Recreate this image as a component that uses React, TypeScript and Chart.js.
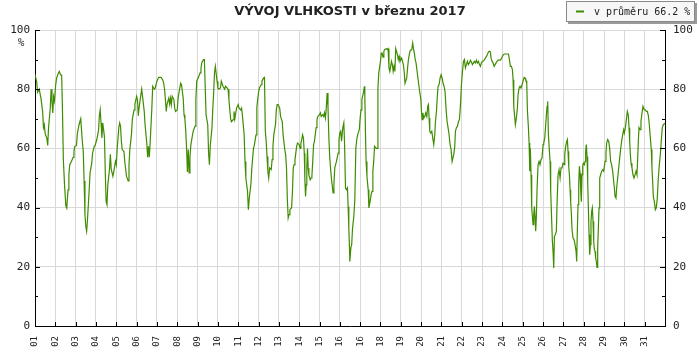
import { useEffect, useRef } from "react";
import { Chart, registerables } from "chart.js";

Chart.register(...registerables);

const titleText = "VÝVOJ VLHKOSTI v březnu 2017";
const unitLabel = "%";
const averageHumidity = 66.2;
const legendText = `v průměru ${averageHumidity} %`;

const dayLabels = [
  "01", "02", "03", "04", "05", "06", "07", "08", "09", "10",
  "11", "12", "13", "14", "15", "16", "16", "18", "19", "20",
  "21", "22", "23", "24", "25", "26", "27", "28", "29", "30", "31",
];

const yTicks = [0, 20, 40, 60, 80, 100];

// hours since 1 March 00:00, one line per day
const hours = [
  0, 2, 3, 5, 7, 9, 10, 11, 12, 14, 15, 16, 18, 19, 20, 21, 22, 23,
  24.4, 25.5, 27.5, 28.7, 30.3, 31.5, 32.5, 33.5, 35, 36.5, 37.5, 39, 40, 41, 43, 45, 46, 47,
  49, 50, 52, 54, 55, 56, 57, 58, 59, 60, 61, 62, 64, 65, 67, 68, 70, 71,
  73, 75, 76, 77, 78, 79, 80, 82, 83, 84, 85, 86, 88, 89, 90, 92, 93, 95,
  96, 97, 99, 100, 101, 102, 103, 105, 106, 108, 110, 111, 112, 114, 115, 117, 118,
  120, 121, 122, 123, 125, 126, 127, 129, 130, 132, 133, 134, 135, 136, 138, 139, 141, 142,
  144, 146, 147, 149, 151, 152, 153, 154, 155, 156, 158, 159, 160, 161, 162, 164, 165, 166,
  168, 169, 171, 172, 173, 175, 176, 177, 178, 179, 180, 181, 182, 183, 184, 186, 187, 189, 190, 191,
  193, 195, 196, 197, 199, 200, 201, 202, 204, 205, 206, 207, 209, 210, 211, 212, 213, 215,
  216, 217, 219, 220, 222, 224, 225, 227, 228, 229, 231, 232, 234, 235, 236, 238,
  240, 241, 243, 244, 245, 247, 248, 249, 251, 252, 253, 255, 256, 258, 259, 261, 262,
  264, 265, 267, 268, 270, 271, 272, 273, 274, 275, 276, 277, 279, 280, 281, 282, 284, 285, 286, 287,
  289, 290, 292, 293, 295, 296, 297, 298, 299, 300, 301, 303, 304, 305, 306, 307, 308, 309, 310,
  312, 313, 314, 315, 316, 317, 318, 318.7, 319.5, 320.3, 321, 321.8, 322.6, 323.4, 325, 326, 327, 328, 329, 330, 332, 333, 334,
  336, 337, 338, 340, 341, 342, 343, 344, 345, 346, 347, 348, 349, 350, 352, 353, 354, 355, 356, 358, 359,
  360, 361, 362, 363.5, 364.7, 365.5, 366.7, 368, 369, 369.8, 370.6, 371.4, 371.8, 373, 374, 375, 376.5, 377.7, 378.9, 380, 381, 383,
  384, 385, 386, 388, 389, 389.5, 390.3, 391, 392, 393.5, 394.3, 395.5, 397, 398, 399, 400, 401, 403, 404, 405, 406,
  408, 409, 410, 411, 412, 413, 415, 416, 417, 418, 419, 421, 422, 423, 424, 425, 426, 428, 429, 430, 431,
  433, 434, 435, 436, 437, 439, 440, 441, 442, 443, 445, 446, 447, 448, 449, 450, 452, 453, 454,
  455.7, 456.4, 457.2, 458, 459.1, 460.3, 461.5, 462.7, 463.8, 464.6, 465.4, 466.2, 467.4, 468.6, 469.7, 470.9, 472.1, 472.9, 474.1, 474.9, 476, 477.2, 478.4, 479.6,
  480.8, 481.9, 483.1, 484.3, 485.5, 486.7, 487.8, 489, 490.2, 491.4, 492.6, 494.6, 495.7, 496.5, 497.7, 498.9, 500.1, 501.2, 502.4, 503.6,
  504.8, 506, 507.1, 508.3, 509.5, 510.7, 511.9, 513, 514.2, 515.4, 516.6, 517.8, 518.9, 520.1, 521.3, 522.5, 523.7, 524.9, 526, 527.2,
  528.4, 529.6, 530.8, 531.9, 533.1, 534.3, 535.5, 536.7, 537.8, 538.6, 539.8, 541, 542.2, 543.3, 544.5, 545.7, 546.9, 548.1, 549.6, 550.8,
  552, 553.2, 554.4, 555.5, 556.7, 557.9, 559.1, 560.3, 561.4, 562.6, 563.8, 564.6, 565.4, 566.6, 567.3, 568.5, 569.7, 570.5, 571.7, 572.8, 574, 575.2,
  576.4, 577.6, 578.7, 579.5, 580.7, 581.5, 582.7, 583.5, 584.3, 585, 585.8, 586.6, 587.4, 588.2, 589, 589.8, 590.5, 591.3, 592.1, 592.9, 594.1, 595.3, 596.4, 597.6, 598.8,
  600, 600.8, 602, 603.1, 603.9, 604.7, 605.5, 606.3, 607.5, 608.3, 609, 610.2, 611, 611.8, 612.6, 613.4, 614.5, 615.7, 616.5, 617.7, 618.9, 620.1, 621.2, 622.4, 623.6,
  624.8, 625.6, 626.7, 627.9, 628.7, 629.5, 630.3, 631.1, 631.9, 632.6, 633.4, 634.2, 635.4, 636.6, 637.8, 639, 639.7, 640.5, 641.3, 642.1, 642.9, 643.7, 644.5, 645.2, 646, 646.8, 647.6,
  648.8, 649.6, 650.3, 651.1, 651.9, 652.7, 653.5, 654.3, 655.1, 655.9, 656.6, 657.4, 658.2, 659, 659.8, 660.6, 661.4, 662.1, 662.9, 663.7, 664.5, 665.3, 666.1, 666.9, 668, 669.2, 670.4, 671.6,
  673.2, 674.3, 675.1, 676.3, 677.5, 678.7, 679.8, 681, 682.2, 683.4, 684.2, 685, 686.1, 686.9, 688.1, 689.3, 690.5, 691.7, 692.8, 694, 695.2, 696,
  697.2, 698.4, 699.5, 700.7, 701.5, 702.3, 703.1, 703.9, 705, 706.2, 707.4, 708.6, 709.8, 710.9, 711.7, 712.5, 713.3, 714.5, 715.6, 716.8, 718, 718.8, 719.6,
  720.8, 722, 723.1, 724.3, 725.5, 726.7, 727.8, 728.6, 729.4, 730.2, 731.4, 732.6, 733.7, 734.9, 736.1, 737.3, 738.5, 739.6, 740.8, 742, 744,
];

// relative humidity in %, matching the lines above
const humidity = [
  85, 82.5, 79, 80, 77, 72.5, 67, 68, 65, 63.4, 61, 67, 73.5, 80, 76, 72, 77.5, 76,
  81.4, 83.7, 85.4, 86, 84.8, 84.8, 72, 56, 47, 40.5, 39.8, 46, 51, 54.5, 55.6, 57, 59, 60.7,
  61, 65, 68, 70, 66, 62, 59, 49, 37.6, 33.7, 32, 36, 46, 51.7, 55, 58.4, 60.7, 61,
  63, 66, 71, 73, 68.6, 63.5, 68.6, 64, 52, 42, 41, 47.7, 53, 58, 53, 50.6, 52, 55.6,
  54.5, 59.6, 67, 68.6, 67.5, 62.4, 59.6, 59, 55.6, 50.6, 49, 54.5, 59.6, 65, 70, 73, 75,
  77.6, 76.5, 71, 74, 78, 80, 77.6, 72.5, 68, 61.8, 57, 60.7, 57, 62, 73.6, 81, 80, 80.4,
  82.7, 84, 84, 84, 83, 82, 80, 76.5, 72.5, 75, 77, 75, 77, 74.8, 77.6, 76.5, 73.6, 72.5,
  73, 77, 80.4, 82, 81.5, 77, 71.4, 70, 66, 60, 52, 59.6, 51.7, 57, 61, 64.6, 66, 67.5, 76.5, 82.7,
  84, 85.5, 87, 89, 90, 90, 81, 71.4, 68, 58.4, 54.5, 61, 67, 73.6, 79, 85.5, 87.7, 82.7,
  80.4, 80, 80.4, 82.7, 81, 80, 81, 80.4, 80, 76.5, 70, 69, 69.7, 72.5, 70, 73.6,
  74.8, 73.6, 73, 73.6, 71, 64.6, 55.6, 50, 45.5, 39.3, 43, 48, 53, 60, 61, 64.6, 74,
  79, 80.4, 81.5, 82.7, 83.8, 84, 65.8, 62.4, 57.3, 52.3, 50, 53.4, 52.8, 56.2, 60.7, 64.6, 68, 73, 74.8, 74.8,
  73.6, 70.8, 69, 64.6, 59.6, 57.9, 53.4, 42.7, 36.5, 37.6, 39.3, 39.9, 45, 53.4, 54.5, 56.2, 58.4, 60.7, 61.8,
  61.3, 60, 61.8, 63, 64.6, 63.5, 58.4, 49.4, 43.8, 47.7, 53.4, 60, 53.4, 51, 49.4, 50, 50.6, 55.6, 61.3, 62.4, 67, 69.7, 70.8,
  71.4, 72, 70.8, 71.4, 70.8, 72, 70.3, 73.6, 78.7, 74.2, 64, 57.3, 53.4, 50, 45, 47.7, 53.4, 54.5, 55.6, 58.4, 63,
  65.2, 65.8, 62.4, 67, 68.6, 62.4, 46.6, 46, 46.6, 40.4, 33, 26.4, 21.8, 26.4, 27.5, 33, 37, 42.7, 60, 63, 64.6, 66.3,
  70.3, 73, 76.5, 79, 81, 78, 64.6, 55.6, 50.6, 46, 39.9, 41.7, 44.4, 45.5, 52.3, 55.6, 60.7, 60, 60, 80.4, 85.5,
  89.4, 92.2, 92.2, 90.8, 92.8, 93.4, 93.7, 93.4, 93.7, 87.2, 86, 89.4, 88.3, 86, 87.7, 86, 93.7, 91.7, 90, 91.1, 89.4,
  90.5, 89.4, 88.3, 86, 82, 83.8, 87.2, 90, 91.7, 93, 93.4, 95.6, 93.7, 92.2, 90, 88.9, 84.3, 82, 79.8,
  76.5, 72.5, 69.7, 72, 70.3, 70.8, 72, 70.8, 74.2, 74.8, 70.3, 65.8, 65.2, 65.8, 63.5, 61.3, 64.6, 69, 72.5, 76.5, 81, 81.5, 83.8, 84.9,
  83.8, 82, 81, 79, 73, 69, 67, 64.6, 61.3, 59.6, 55.6, 58, 60.7, 65.8, 67, 67.5, 69, 69.7, 74.2, 81.5,
  86, 89.4, 90, 87.2, 88.3, 89.4, 88.3, 88.9, 89.8, 89.2, 88.3, 88.9, 89.4, 88.9, 89.8, 88.9, 89.4, 88.3, 87.7, 88.9,
  89.4, 89.6, 90, 90.5, 91.1, 91.7, 92.6, 92.8, 92.6, 90.5, 89.4, 88.9, 87.7, 88.3, 88.9, 89.4, 89.8, 89.8, 89.8, 90.3,
  91.1, 91.7, 91.9, 91.9, 91.9, 91.9, 91.9, 90, 87.7, 87.7, 86.6, 83.2, 74.2, 70.3, 68, 70.3, 73.6, 78.2, 80.4, 81, 80.4, 81.5,
  82.7, 84, 83.8, 83.1, 82.7, 73, 67, 61.8, 52.3, 60, 51.1, 39.9, 37, 34.2, 37.6, 40.4, 37, 32, 37, 46, 54.5, 55.6, 54.5, 56.2, 56.8,
  61.3, 61.8, 63.5, 68, 71.2, 74.2, 75.9, 64.6, 59, 55.6, 45.5, 35.4, 28.6, 25.2, 19.6, 30.3, 30.9, 32, 41, 51.1, 52.8, 50, 53.4, 53.4, 55,
  54.5, 58, 60.7, 62.4, 63, 59, 54, 51.1, 46, 42, 38.2, 32.5, 29.7, 29.2, 27.5, 25.2, 21.8, 32.5, 41, 47.7, 54, 51.7, 45.5, 42, 51.1, 54, 55,
  54.5, 55.6, 59, 61.3, 57.3, 48.9, 39.9, 30.9, 24.1, 27.5, 35.4, 38.7, 39.9, 35.4, 28.6, 25.8, 25.2, 23, 21.8, 19.8, 26.4, 33, 39.9, 50, 51.1, 52.3, 52.8, 52.3,
  55.6, 58.4, 61.8, 63, 62.4, 60, 55.6, 54.5, 52.3, 48.9, 46.6, 43.8, 43.2, 46.6, 50, 53.4, 56.8, 60, 62.4, 64.6, 66.3, 65.2,
  67, 69.7, 72.5, 71.2, 67, 62.4, 57.9, 55, 53.4, 51.1, 50, 51.1, 52.3, 51.1, 56.2, 62.4, 67, 66.3, 69, 71.9, 74.2, 73.6, 73,
  73, 72.5, 72.5, 71.2, 68, 63.5, 59.6, 53.4, 48.9, 43.8, 42, 39.3, 39.9, 43.2, 50, 54.5, 57.9, 62.4, 67, 68, 68.5,
];

const LINE_COLOR = "#3f8c00";
const GRID_COLOR = "#d9d9d9";
const TEXT_COLOR = "#222222";
const MONO = '"DejaVu Sans Mono", monospace';

const decorPlugin = {
  id: "decor",
  afterDraw(chart: any) {
    const { ctx, chartArea, scales } = chart;
    const ys = scales.y;
    const xs = scales.x;
    ctx.save();
    // inward tick marks
    ctx.strokeStyle = "#000";
    ctx.lineWidth = 1;
    ctx.beginPath();
    for (let v = 0; v <= 100; v += 10) {
      const py = Math.round(ys.getPixelForValue(v)) + 0.5;
      const len = v % 20 === 0 ? 5 : 3;
      ctx.moveTo(chartArea.left, py);
      ctx.lineTo(chartArea.left + len, py);
      ctx.moveTo(chartArea.right, py);
      ctx.lineTo(chartArea.right - len, py);
    }
    dayLabels.forEach((_, i) => {
      const px = Math.round(xs.getPixelForValue(i * 24)) + 0.5;
      ctx.moveTo(px, chartArea.bottom);
      ctx.lineTo(px, chartArea.bottom - 4);
    });
    ctx.stroke();

    // title
    ctx.fillStyle = TEXT_COLOR;
    ctx.font = 'bold 13px "DejaVu Sans", sans-serif';
    ctx.textAlign = "center";
    ctx.textBaseline = "middle";
    ctx.fillText(titleText, 350, 12);

    // unit under the top left tick
    ctx.font = `11px ${MONO}`;
    ctx.fillText(unitLabel, 21, 43);

    // legend box
    const bx = 566, by = 1, bw = 129, bh = 21;
    ctx.fillStyle = "#9a9a9a";
    ctx.fillRect(bx + 2, by + 2, bw, bh);
    ctx.fillStyle = "#f7f7f7";
    ctx.fillRect(bx, by, bw, bh);
    ctx.strokeStyle = "#8a8a8a";
    ctx.strokeRect(bx + 0.5, by + 0.5, bw - 1, bh - 1);
    ctx.strokeStyle = LINE_COLOR;
    ctx.lineWidth = 2;
    ctx.beginPath();
    ctx.moveTo(576, by + bh / 2);
    ctx.lineTo(584, by + bh / 2);
    ctx.stroke();
    ctx.fillStyle = TEXT_COLOR;
    ctx.font = `10px ${MONO}`;
    ctx.textAlign = "left";
    ctx.fillText(legendText, 594, by + bh / 2 + 0.5);
    ctx.restore();
  },
};

export default function App() {
  const canvasRef = useRef<HTMLCanvasElement | null>(null);

  useEffect(() => {
    const canvas = canvasRef.current;
    if (!canvas) return;
    const points = hours.map((h, i) => ({ x: h, y: humidity[i] }));
    const chart = new Chart(canvas, {
      type: "line",
      data: {
        datasets: [
          {
            label: legendText,
            data: points,
            borderColor: LINE_COLOR,
            borderWidth: 1.2,
            pointRadius: 0,
            tension: 0,
            fill: false,
          },
        ],
      },
      options: {
        animation: false,
        responsive: false,
        devicePixelRatio: 1,
        layout: { padding: { top: 30, left: 0, right: 0, bottom: 0 } },
        plugins: {
          legend: { display: false },
          title: { display: false },
          tooltip: { enabled: false },
        },
        scales: {
          x: {
            type: "linear",
            min: 0,
            max: 744,
            afterFit: (s: any) => {
              s.height = 24;
            },
            afterBuildTicks: (s: any) => {
              s.ticks = dayLabels.map((_, i) => ({ value: i * 24 }));
            },
            ticks: {
              autoSkip: false,
              minRotation: 90,
              maxRotation: 90,
              padding: 10,
              color: TEXT_COLOR,
              font: { family: MONO, size: 9 },
              callback: (_v: any, i: number) => dayLabels[i],
            },
            grid: { color: GRID_COLOR, drawTicks: false },
            border: { color: "#000", width: 1 },
          },
          y: {
            position: "left",
            min: 0,
            max: 100,
            afterFit: (s: any) => {
              s.width = 35;
            },
            afterBuildTicks: (s: any) => {
              s.ticks = yTicks.map((v) => ({ value: v }));
            },
            ticks: {
              padding: 5,
              color: TEXT_COLOR,
              font: { family: MONO, size: 11 },
            },
            grid: { color: GRID_COLOR, drawTicks: false },
            border: { color: "#000", width: 1 },
          },
          y2: {
            position: "right",
            min: 0,
            max: 100,
            afterFit: (s: any) => {
              s.width = 35;
            },
            afterBuildTicks: (s: any) => {
              s.ticks = yTicks.map((v) => ({ value: v }));
            },
            ticks: {
              padding: 8,
              color: TEXT_COLOR,
              font: { family: MONO, size: 11 },
            },
            grid: { drawOnChartArea: false, drawTicks: false },
            border: { color: "#000", width: 1 },
          },
        },
      },
      plugins: [decorPlugin],
    });
    return () => chart.destroy();
  }, []);

  return (
    <div style={{ position: "absolute", left: 0, top: 0, width: 700, height: 350 }}>
      <canvas ref={canvasRef} width={700} height={350} style={{ display: "block" }} />
    </div>
  );
}
